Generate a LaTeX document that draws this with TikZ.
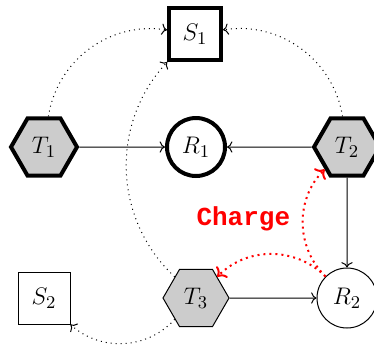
\documentclass[tikz,border=0pt]{standalone}
\usepackage{fontspec}
\newfontfamily\chargefont{Liberation Mono}
\usetikzlibrary{shapes.geometric,arrows.meta}
\begin{document}
\begin{tikzpicture}[x=0.5pt,y=-0.5pt,
  every node/.style={font=\fontsize{13}{15}\selectfont},
  hexbox/.style={regular polygon, regular polygon sides=6, minimum size=33pt, inner sep=0pt, fill=gray!40, draw},
  sqbox/.style={rectangle, minimum size=26pt, inner sep=0pt, draw, fill=white},
  circbox/.style={circle, inner sep=0pt, draw, fill=white},
  heavy/.style={line width=2pt},
  light/.style={line width=0.5pt},
  flow/.style={->, line width=0.5pt},
  link/.style={->, dotted, line width=0.5pt},
  charge/.style={->, red, dotted, line width=1pt}]
\useasboundingbox (0,0) rectangle (374,349);
\node[sqbox, heavy] (S1) at (195,34) {$S_1$};
\node[hexbox, heavy] (T1) at (44,147) {$T_1$};
\node[circbox, heavy, minimum size=29pt] (R1) at (196,147) {$R_1$};
\node[hexbox, heavy] (T2) at (347,147) {$T_2$};
\node[sqbox, light] (S2) at (44,298) {$S_2$};
\node[hexbox, light] (T3) at (196,298) {$T_3$};
\node[circbox, light, minimum size=30pt] (R2) at (347,298) {$R_2$};
\draw[flow] (T1) -- (R1);
\draw[flow] (T2) -- (R1);
\draw[flow] (T2) -- (R2);
\draw[flow] (T3) -- (R2);
\draw[link] (T1) to[bend left=45] (S1);
\draw[link] (T2) to[bend right=45] (S1);
\draw[link] (T3) to[bend left=45] (S1);
\draw[link] (T3) to[bend left=45] (S2);
\draw[charge] (R2) to[bend left=45] node[pos=0.5, left, xshift=-2.5pt, yshift=2pt, font=\chargefont\bfseries\fontsize{13}{15}\selectfont] (L) {Charge} (T2);
\draw[charge] (R2) to[bend right=45] (T3);
\end{tikzpicture}
\end{document}
